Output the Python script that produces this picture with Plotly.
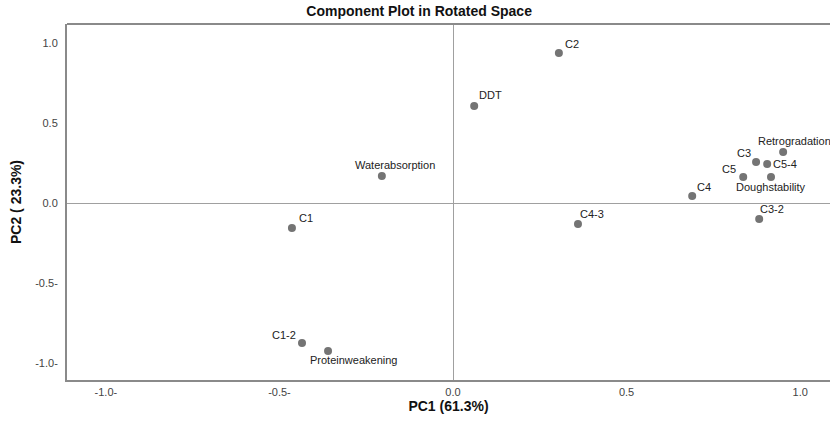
import plotly.graph_objects as go

labels = ["C2", "DDT", "Waterabsorption", "C1", "C1-2", "Proteinweakening",
          "C4-3", "C3-2", "C4", "C5", "Doughstability", "C3", "C5-4", "Retrogradation"]
pc1 = [0.305, 0.061, -0.205, -0.464, -0.435, -0.360,
       0.360, 0.882, 0.689, 0.836, 0.916, 0.873, 0.905, 0.951]
pc2 = [0.938, 0.606, 0.169, -0.156, -0.875, -0.925,
       -0.131, -0.100, 0.044, 0.163, 0.163, 0.256, 0.244, 0.319]

x_tickvals = [-1.0, -0.5, 0.0, 0.5, 1.0]
x_ticktext = ["-1.0-", "-0.5-", "0.0", "0.5", "1.0"]
y_tickvals = [1.0, 0.5, 0.0, -0.5, -1.0]
y_ticktext = ["1.0", "0.5", "0.0", "-0.5-", "-1.0-"]

# label placement (style): xanchor, xshift px, yshift px
label_style = {
    "C2": ("left", 4, 9),
    "DDT": ("left", 3, 11),
    "Waterabsorption": ("left", -29, 11),
    "C1": ("left", 5, 10),
    "C1-2": ("right", -4, 8),
    "Proteinweakening": ("left", -20, -9),
    "C4-3": ("left", 0, 10),
    "C3-2": ("left", -1, 10),
    "C4": ("left", 3, 9),
    "C5": ("right", -5, 8),
    "Doughstability": ("center", 0, -10),
    "C3": ("right", -3, 9),
    "C5-4": ("left", 4, 0),
    "Retrogradation": ("left", -27, 11),
}

FONT = "Liberation Sans, Arial, sans-serif"

fig = go.Figure()
fig.add_trace(go.Scatter(
    x=pc1, y=pc2, mode="markers",
    marker=dict(size=8, color="#747474"),
    hoverinfo="text", text=labels, showlegend=False,
))

annotations = []
for name, xv, yv in zip(labels, pc1, pc2):
    xa, xs, ys = label_style[name]
    annotations.append(dict(
        x=xv, y=yv, xref="x", yref="y", text=name, showarrow=False,
        xanchor=xa, yanchor="middle", xshift=xs, yshift=ys,
        font=dict(family=FONT, size=11, color="#222222"),
    ))

fig.update_layout(
    width=830, height=427,
    margin=dict(l=67, r=0, t=24, b=47),
    paper_bgcolor="white", plot_bgcolor="white",
    title=dict(text="<b>Component Plot in Rotated Space</b>", x=0.505, xref="container",
               xanchor="center", y=0.975, yref="container", yanchor="middle",
               font=dict(family=FONT, size=14, color="#111111")),
    annotations=annotations,
    font=dict(family=FONT),
    shapes=[dict(type="line", xref="paper", yref="paper", x0=0, x1=1, y0=1, y1=1,
                 line=dict(color="#8a8a8a", width=2))],
)
fig.update_xaxes(
    range=[-1.112, 1.086], tickvals=x_tickvals, ticktext=x_ticktext,
    showgrid=False, zeroline=True, zerolinecolor="#a0a0a0", zerolinewidth=1,
    showline=True, mirror=False, linecolor="#8a8a8a", linewidth=2,
    ticks="", ticklabelstandoff=1,
    tickfont=dict(family=FONT, size=11, color="#444444"),
    title=dict(text="<b>PC1 (61.3%)</b>", standoff=4,
               font=dict(family=FONT, size=14, color="#111111")),
)
fig.update_yaxes(
    range=[-1.106, 1.119], tickvals=y_tickvals, ticktext=y_ticktext,
    showgrid=False, zeroline=True, zerolinecolor="#a0a0a0", zerolinewidth=1,
    showline=True, mirror=False, linecolor="#8a8a8a", linewidth=2,
    ticks="", ticklabelstandoff=5,
    tickfont=dict(family=FONT, size=11, color="#444444"),
    title=dict(text="<b>PC2 ( 23.3%)</b>", standoff=10,
               font=dict(family=FONT, size=14, color="#111111")),
)

fig.write_html(
    "out.html",
    config={"displayModeBar": False},
    post_script="document.body.style.margin='0';document.body.style.overflow='hidden';",
)
